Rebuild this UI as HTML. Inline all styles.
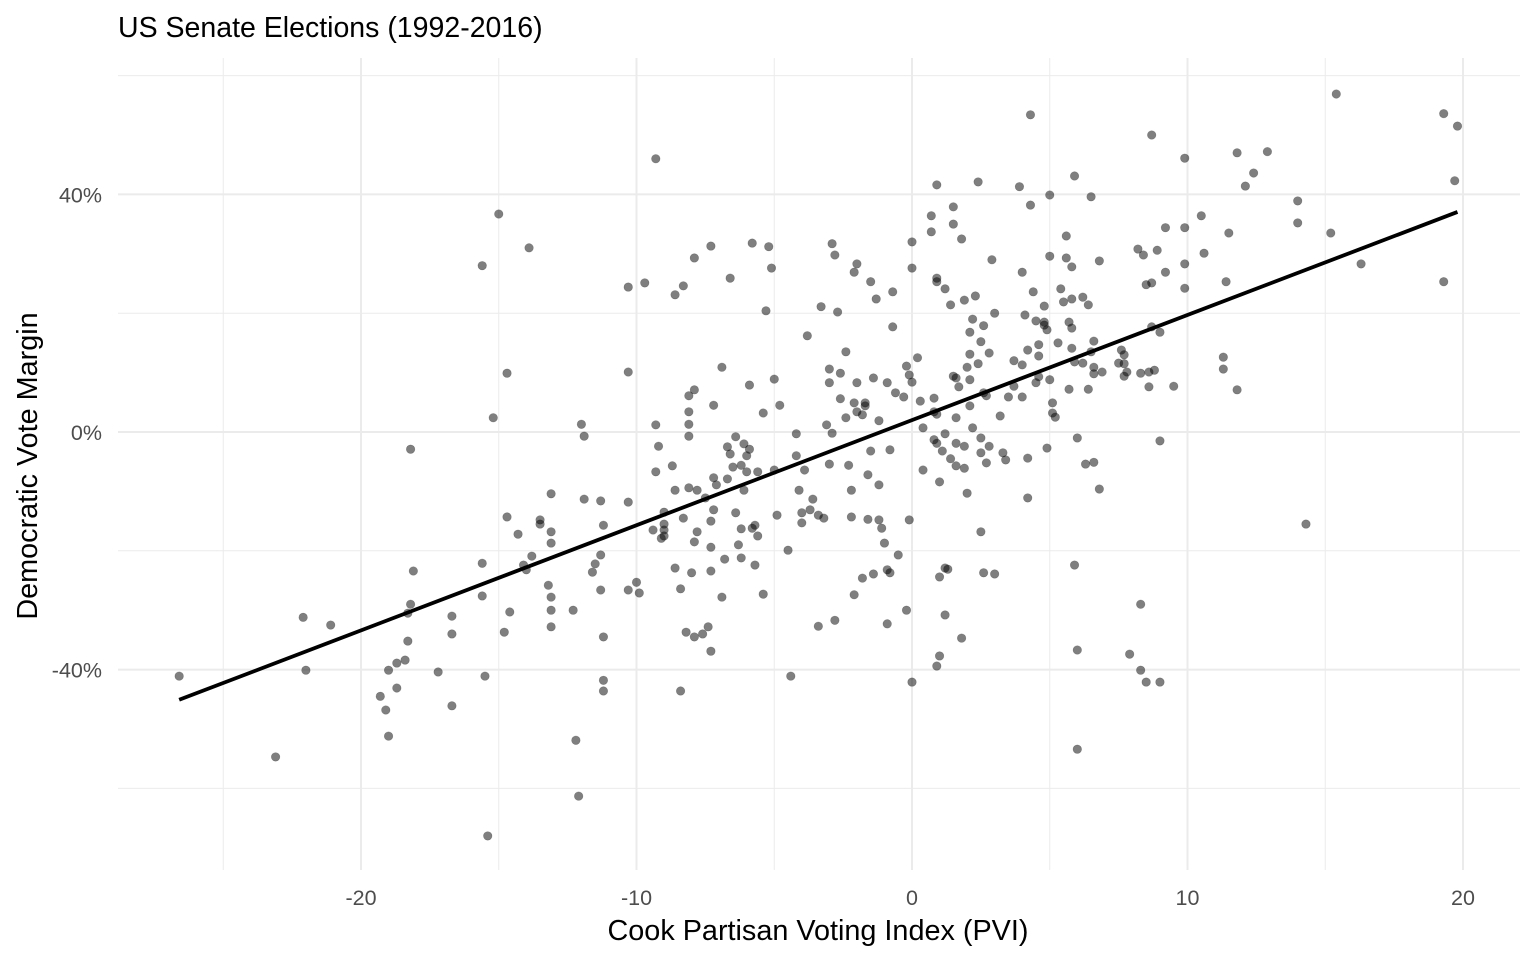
<!DOCTYPE html>
<html><head><meta charset="utf-8"><style>
body{margin:0;background:#fff;}
svg text{font-family:"Liberation Sans",Arial,sans-serif;}
</style></head><body>
<svg id="chart" width="1536" height="960" viewBox="0 0 1536 960" xmlns="http://www.w3.org/2000/svg">
<rect width="1536" height="960" fill="#fff"/>
<text x="118" y="37" font-size="28.5" fill="#000">US Senate Elections (1992-2016)</text>
<g id="grid"></g>
<g id="points"></g>
<g id="fit"></g>
<g id="axes"></g>
<text x="818" y="940" font-size="28.8" text-anchor="middle" fill="#000">Cook Partisan Voting Index (PVI)</text>
<text transform="translate(37,466) rotate(-90)" font-size="28.8" text-anchor="middle" fill="#000">Democratic Vote Margin</text>
</svg>
<script>
const pvi = [-26.6,-23.1,-22.1,-22.0,-21.1,-19.3,-19.1,-19.0,-19.0,-18.7,-18.7,-18.4,-18.3,-18.3,-18.2,-18.2,-18.1,-17.2,-16.7,-16.7,-16.7,-15.6,-15.6,-15.5,-15.6,-15.4,-15.2,-15.0,-14.7,-14.7,-14.8,-14.6,-14.3,-14.1,-14.0,-13.9,-13.8,-13.5,-13.5,-13.2,-13.1,-13.1,-13.1,-13.1,-13.1,-13.1,-12.3,-12.2,-12.1,-12.0,-11.9,-11.9,-11.6,-11.5,-11.3,-11.3,-11.3,-11.2,-11.2,-11.2,-11.2,-10.3,-10.3,-10.3,-10.3,-10.0,-9.9,-9.7,-9.3,-9.4,-9.3,-9.3,-9.2,-9.1,-9.0,-9.0,-9.0,-9.0,-8.7,-8.6,-8.6,-8.6,-8.4,-8.4,-8.3,-8.3,-8.2,-8.1,-8.1,-8.1,-8.1,-8.1,-8.0,-7.9,-7.9,-7.9,-7.9,-7.8,-7.8,-7.6,-7.5,-7.4,-7.3,-7.3,-7.3,-7.3,-7.3,-7.2,-7.2,-7.2,-7.1,-6.9,-6.9,-6.8,-6.7,-6.7,-6.6,-6.6,-6.5,-6.4,-6.4,-6.3,-6.2,-6.2,-6.2,-6.1,-6.1,-6.0,-6.0,-5.9,-5.9,-5.8,-5.8,-5.7,-5.7,-5.6,-5.6,-5.4,-5.4,-5.3,-5.2,-5.1,-5.0,-5.0,-4.9,-4.8,-4.5,-4.4,-4.2,-4.2,-4.1,-4.0,-4.0,-3.9,-3.8,-3.7,-3.6,-3.4,-3.4,-3.3,-3.2,-3.1,-3.0,-3.0,-3.0,-2.9,-2.9,-2.8,-2.8,-2.7,-2.6,-2.6,-2.4,-2.4,-2.3,-2.2,-2.2,-2.1,-2.1,-2.1,-2.0,-2.0,-2.0,-1.8,-1.8,-1.7,-1.7,-1.6,-1.6,-1.5,-1.5,-1.4,-1.4,-1.3,-1.2,-1.2,-1.2,-1.1,-1.0,-0.9,-0.9,-0.9,-0.8,-0.8,-0.7,-0.7,-0.6,-0.5,-0.3,-0.2,-0.2,-0.1,-0.1,0.0,0.0,0.0,0.0,0.2,0.3,0.4,0.4,0.7,0.7,0.8,0.8,0.8,0.9,0.9,0.9,0.9,0.9,0.9,1.0,1.0,1.0,1.1,1.2,1.2,1.2,1.2,1.3,1.4,1.4,1.5,1.5,1.5,1.6,1.6,1.6,1.6,1.7,1.8,1.8,1.9,1.9,1.9,2.0,2.0,2.1,2.1,2.1,2.1,2.2,2.2,2.3,2.4,2.4,2.5,2.5,2.5,2.5,2.6,2.6,2.6,2.7,2.7,2.8,2.8,2.9,3.0,3.0,3.2,3.3,3.4,3.5,3.7,3.7,3.9,4.0,4.0,4.0,4.1,4.2,4.2,4.2,4.3,4.3,4.4,4.5,4.5,4.6,4.6,4.6,4.8,4.8,4.8,4.9,4.9,5.0,5.0,5.0,5.1,5.1,5.2,5.3,5.4,5.5,5.6,5.6,5.7,5.7,5.8,5.8,5.8,5.8,5.9,5.9,5.9,6.0,6.0,6.0,6.2,6.2,6.3,6.4,6.4,6.5,6.5,6.6,6.6,6.6,6.6,6.8,6.8,6.9,7.5,7.6,7.7,7.7,7.7,7.8,7.9,8.2,8.3,8.3,8.3,8.4,8.5,8.5,8.6,8.6,8.7,8.7,8.7,8.8,8.9,9.0,9.0,9.0,9.2,9.2,9.5,9.9,9.9,9.9,9.9,10.5,10.6,11.4,11.3,11.3,11.5,11.8,11.8,12.1,12.4,12.9,14.0,14.0,14.3,15.2,15.4,16.3,19.3,19.3,19.8,19.7];
const margin = [-41.1,-54.7,-31.2,-40.1,-32.5,-44.5,-46.8,-51.2,-40.1,-43.1,-38.9,-38.4,-35.2,-30.5,-29.0,-2.9,-23.4,-40.4,-31.0,-34.0,-46.1,-22.1,28.0,-41.1,-27.6,-68.0,2.4,36.7,9.9,-14.3,-33.7,-30.3,-17.2,-22.4,-23.2,31.0,-20.9,-14.8,-15.5,-25.8,-10.4,-27.8,-30.0,-32.8,-18.7,-16.8,-30.0,-51.9,-61.3,1.3,-0.7,-11.3,-23.6,-22.2,-11.6,-20.7,-26.6,-15.7,-34.5,-41.8,-43.6,-26.6,10.1,-11.8,24.4,-25.3,-27.1,25.1,46.0,-16.5,-6.7,1.2,-2.4,-17.9,-13.5,-16.5,-15.5,-17.5,-5.7,23.1,-9.8,-22.9,-43.6,-26.4,-14.5,24.6,-33.7,3.4,1.3,-0.7,-9.4,6.1,-23.7,29.3,7.1,-34.5,-18.5,-9.8,-16.8,-34.0,-11.1,-32.8,-36.9,31.3,-15.0,-19.4,-23.4,-7.7,-13.1,4.5,-8.9,10.9,-27.8,-21.4,-7.9,-2.5,-3.7,25.9,-5.9,-13.6,-0.8,-19.0,-5.6,-21.2,-16.3,-9.8,-2.0,-4.0,-6.7,-2.9,7.9,31.8,-16.2,-22.4,-15.7,-6.7,-17.5,-27.3,3.2,20.4,31.2,27.6,8.9,-6.4,-14.0,4.5,-19.9,-41.1,-4.0,-0.3,-9.8,-15.3,-13.6,-6.4,16.2,-13.1,-11.3,-32.7,-14.0,21.1,-14.5,1.2,8.3,10.6,-5.4,31.7,-0.2,-31.7,29.8,20.2,5.6,9.9,2.4,13.5,-5.6,-9.8,-14.3,-27.4,26.9,4.9,3.4,8.3,28.3,-24.6,2.9,4.9,4.4,-14.7,-7.2,25.3,-3.2,9.1,-23.9,22.4,1.9,-14.8,-8.9,-16.2,-18.7,-23.2,8.3,-32.3,-23.7,-3.0,17.7,23.6,6.6,-20.7,5.9,-30.0,11.1,9.6,-14.8,32.0,27.6,-42.1,8.4,12.5,5.2,0.7,-6.4,36.4,33.7,-1.3,3.4,5.7,3.0,-1.9,25.9,-39.4,25.3,41.6,-37.7,-24.4,-8.4,-3.2,24.1,-0.3,-22.9,-30.8,-23.1,-4.5,21.4,9.4,37.9,35.0,-1.9,9.1,2.4,-5.7,7.6,-34.7,32.5,22.2,-2.4,-6.1,-10.3,10.9,4.4,16.8,8.8,13.1,0.7,19.0,22.9,11.5,42.1,-1.0,15.2,-3.5,-16.8,6.6,17.9,-23.7,6.1,-5.2,13.3,-2.4,29.0,20.0,-23.9,2.7,-3.5,-4.7,5.9,7.7,12.0,41.3,26.9,11.3,5.9,19.7,-11.1,13.8,-4.4,53.4,38.2,23.6,18.7,8.3,14.7,9.3,12.8,18.0,21.2,18.5,-2.7,17.2,29.6,39.9,8.8,4.9,3.2,2.5,15.0,24.1,21.9,29.3,33.0,7.2,18.5,17.5,22.4,14.1,27.8,11.8,-22.4,43.1,-1.0,-53.4,-36.7,11.6,22.7,-5.4,7.2,21.4,39.6,13.5,10.9,-5.1,15.3,9.8,-9.6,28.8,10.1,11.6,13.8,13.0,11.5,9.4,10.1,-37.4,30.8,-40.1,9.9,-29.0,29.8,-42.1,24.8,10.1,7.6,50.0,17.7,25.1,10.4,30.6,-1.5,-42.1,16.8,34.4,26.9,7.7,24.2,28.3,34.4,46.1,36.4,30.1,25.3,12.6,10.6,33.5,47.0,7.1,41.4,43.6,47.2,38.9,35.2,-15.5,33.5,56.9,28.3,53.6,25.3,51.5,42.3];
const xTicks = [-20,-10,0,10,20];
const xTickLabels = ["-20","-10","0","10","20"];
const xMinor = [-25,-15,-5,5,15];
const yTicks = [-40,0,40];
const yTickLabels = ["-40%","0%","40%"];
const yMinor = [-60,-20,20,60];
const fitIntercept = [2.0];
const fitSlope = [1.77];

const PL=118, PR=1520, PT=58, PB=870;
const X = v => 912 + v*27.55;
const Y = v => 432 - v*5.94;
const NS='http://www.w3.org/2000/svg';
function mk(tag, attrs, parent){const e=document.createElementNS(NS,tag);for(const k in attrs)e.setAttribute(k,attrs[k]);parent.appendChild(e);return e;}
const grid=document.getElementById('grid');
yMinor.forEach(v=>{const l=mk('line',{x1:PL,x2:PR,y1:Y(v),y2:Y(v),stroke:'#ebebeb','stroke-width':1},grid);

});
xMinor.forEach(v=>{const l=mk('line',{x1:X(v),x2:X(v),y1:PT,y2:PB,stroke:'#ebebeb','stroke-width':1},grid);

});
yTicks.forEach(v=>{const l=mk('line',{x1:PL,x2:PR,y1:Y(v),y2:Y(v),stroke:'#ebebeb','stroke-width':2},grid);

});
xTicks.forEach(v=>{const l=mk('line',{x1:X(v),x2:X(v),y1:PT,y2:PB,stroke:'#ebebeb','stroke-width':2},grid);

});
const axes=document.getElementById('axes');
xTicks.forEach((v,i)=>{const t=mk('text',{x:X(v),y:905,'font-size':21.5,'text-anchor':'middle',fill:'#4d4d4d'},axes);t.textContent=xTickLabels[i];

});
yTicks.forEach((v,i)=>{const t=mk('text',{x:102,y:Y(v)+8,'font-size':21.5,'text-anchor':'end',fill:'#4d4d4d'},axes);t.textContent=yTickLabels[i];

});
const pts=document.getElementById('points');
pvi.forEach((v,i)=>{const c=mk('circle',{cx:X(v),cy:Y(margin[i]),r:4.3,fill:'#000','fill-opacity':0.5,stroke:'#000','stroke-opacity':0.25,'stroke-width':0.6},pts);

});
const a=fitIntercept[0], b=fitSlope[0];
const x0=Math.min(...pvi), x1=Math.max(...pvi);
const ln=mk('line',{x1:X(x0),y1:Y(a+b*x0),x2:X(x1),y2:Y(a+b*x1),stroke:'#000','stroke-width':3.8},document.getElementById('fit'));


</script>
</body></html>
